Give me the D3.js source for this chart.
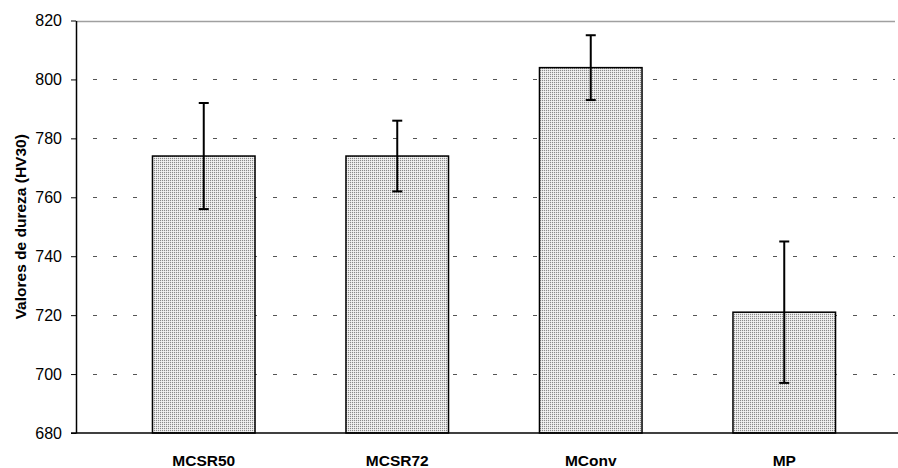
<!DOCTYPE html>
<html>
<head>
<meta charset="utf-8">
<script src="https://cdn.jsdelivr.net/npm/d3@7"></script>
<style>
  html, body { margin: 0; padding: 0; background: #fff; }
  svg { display: block; font-family: "Liberation Sans", Arial, sans-serif; }
</style>
</head>
<body>
<svg id="chart" width="898" height="468"></svg>
<script>
const categories = ["MCSR50", "MCSR72", "MConv", "MP"];
const values = [774, 774, 804, 721];
const errLow = [756, 762, 793, 697];
const errHigh = [792, 786, 815, 745];
const yTicks = [680, 700, 720, 740, 760, 780, 800, 820];
const yTitle = "Valores de dureza (HV30)";

const svg = d3.select("#chart");
const axisX = 76, plotRight = 895, plotTop = 20.5, plotBottom = 433;

const defs = svg.append("defs");
const pat = defs.append("pattern").attr("id", "dots")
  .attr("patternUnits", "userSpaceOnUse").attr("width", 2).attr("height", 2);
pat.append("rect").attr("width", 2).attr("height", 2).attr("fill", "#e4e4e4");
pat.append("rect").attr("width", 1).attr("height", 1).attr("fill", "#8a8a8a");
pat.append("rect").attr("x", 1).attr("y", 1).attr("width", 1).attr("height", 1).attr("fill", "#f4f4f4");

const y = d3.scaleLinear().domain([680, 820]).range([plotBottom, plotTop]);
const x = d3.scaleBand().domain(categories).range([107, 881]).paddingInner(0.47).paddingOuter(0.235);

// gridlines
svg.append("g").selectAll("line").data(yTicks.filter(t => t > 680 && t < 820)).join("line")
  .attr("x1", axisX).attr("x2", plotRight)
  .attr("y1", d => Math.round(y(d)) + 0.5).attr("y2", d => Math.round(y(d)) + 0.5)
  .attr("stroke", "#555").attr("stroke-width", 1)
  .attr("stroke-dasharray", "4,16").attr("stroke-dashoffset", 3);
// top line
svg.append("line").attr("x1", axisX).attr("x2", plotRight)
  .attr("y1", Math.round(y(820)) + 0.5).attr("y2", Math.round(y(820)) + 0.5)
  .attr("stroke", "#a0a0a0").attr("stroke-width", 1.5);

// bars
svg.append("g").selectAll("rect").data(categories).join("rect")
  .attr("x", d => x(d)).attr("width", x.bandwidth())
  .attr("y", (d, i) => y(values[i])).attr("height", (d, i) => plotBottom - y(values[i]))
  .attr("fill", "url(#dots)").attr("stroke", "#000").attr("stroke-width", 1.5);

// error bars
const eb = svg.append("g").attr("stroke", "#000").attr("stroke-width", 2);
categories.forEach((c, i) => {
  const cx = x(c) + x.bandwidth() / 2;
  eb.append("line").attr("x1", cx).attr("x2", cx).attr("y1", y(errLow[i])).attr("y2", y(errHigh[i]));
  eb.append("line").attr("x1", cx - 5).attr("x2", cx + 5).attr("y1", y(errLow[i])).attr("y2", y(errLow[i]));
  eb.append("line").attr("x1", cx - 5).attr("x2", cx + 5).attr("y1", y(errHigh[i])).attr("y2", y(errHigh[i]));
});

// y axis
const yAxis = svg.append("g").attr("transform", `translate(${axisX},0)`)
  .call(d3.axisLeft(y).tickValues(yTicks).tickSize(5).tickPadding(9).tickSizeOuter(0));
yAxis.select(".domain").attr("stroke", "#000").attr("stroke-width", 1.5);
yAxis.selectAll(".tick line").attr("stroke", "#000");
yAxis.selectAll(".tick text").attr("font-size", 16).attr("fill", "#000")
  .attr("font-family", "Liberation Sans, Arial, sans-serif");

// x axis baseline
svg.append("line").attr("x1", axisX - 5).attr("x2", 898)
  .attr("y1", plotBottom).attr("y2", plotBottom)
  .attr("stroke", "#000").attr("stroke-width", 1.5);

// category labels
svg.append("g").selectAll("text").data(categories).join("text")
  .attr("x", d => x(d) + x.bandwidth() / 2).attr("y", 466)
  .attr("text-anchor", "middle").attr("font-size", 15.5).attr("font-weight", "bold")
  .text(d => d);

// y title
svg.append("text").attr("transform", `translate(26,${(plotTop + plotBottom) / 2}) rotate(-90)`)
  .attr("text-anchor", "middle").attr("font-size", 15.5).attr("font-weight", "bold")
  .text(yTitle);
</script>
</body>
</html>
